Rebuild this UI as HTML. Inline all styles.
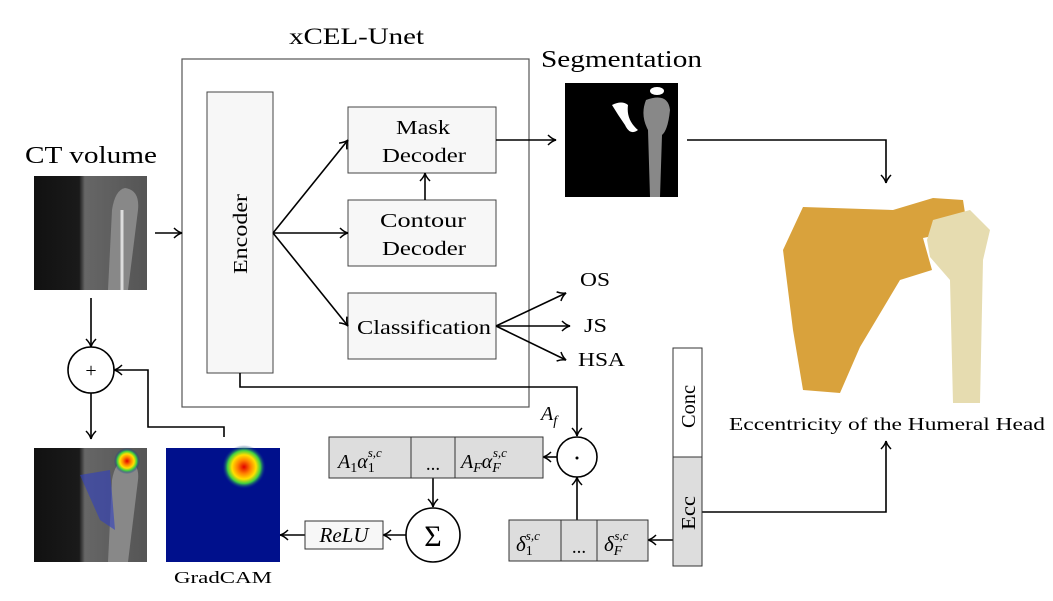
<!DOCTYPE html>
<html><head><meta charset="utf-8"><style>
html,body{margin:0;padding:0;background:#fff;}
svg{display:block;font-family:"Liberation Serif",serif;}
</style></head><body>
<svg width="1053" height="601" viewBox="0 0 1053 601" xmlns="http://www.w3.org/2000/svg">
<defs>
<marker id="a" markerWidth="10" markerHeight="12" refX="9" refY="6" orient="auto" markerUnits="userSpaceOnUse">
<path d="M1,1 Q5,5 9,6 Q5,7 1,11" fill="none" stroke="#000" stroke-width="1.5"/>
</marker>
<radialGradient id="hot" cx="0.5" cy="0.5" r="0.5">
<stop offset="0" stop-color="#e00000"/><stop offset="0.3" stop-color="#ff8000"/><stop offset="0.55" stop-color="#ffe000"/><stop offset="0.75" stop-color="#40d040"/><stop offset="1" stop-color="#0010a0" stop-opacity="0"/>
</radialGradient>
<linearGradient id="ct" x1="0" x2="1"><stop offset="0" stop-color="#111"/><stop offset="0.4" stop-color="#1a1a1a"/><stop offset="0.45" stop-color="#666"/><stop offset="1" stop-color="#555"/></linearGradient>
</defs>

<text x="289" y="44" font-size="23" textLength="135" lengthAdjust="spacingAndGlyphs">xCEL-Unet</text>
<rect x="182" y="59" width="347" height="348" fill="#fff" stroke="#555" stroke-width="1.2"/>
<rect x="207" y="92" width="66" height="281" fill="#f7f7f7" stroke="#444"/>
<text transform="translate(247,274) rotate(-90)" font-size="20" textLength="80" lengthAdjust="spacingAndGlyphs">Encoder</text>
<rect x="348" y="107" width="148" height="66" fill="#f7f7f7" stroke="#444"/>
<text x="396" y="134" font-size="20" textLength="54" lengthAdjust="spacingAndGlyphs">Mask</text>
<text x="382" y="162" font-size="20" textLength="84" lengthAdjust="spacingAndGlyphs">Decoder</text>
<rect x="348" y="200" width="148" height="66" fill="#f7f7f7" stroke="#444"/>
<text x="380" y="227" font-size="20" textLength="86" lengthAdjust="spacingAndGlyphs">Contour</text>
<text x="382" y="255" font-size="20" textLength="84" lengthAdjust="spacingAndGlyphs">Decoder</text>
<rect x="348" y="293" width="148" height="66" fill="#f7f7f7" stroke="#444"/>
<text x="357" y="334" font-size="20" textLength="134" lengthAdjust="spacingAndGlyphs">Classification</text>

<g stroke="#000" stroke-width="1.6" fill="none">
<line x1="273" y1="233" x2="348" y2="140" marker-end="url(#a)"/>
<line x1="273" y1="233" x2="348" y2="233" marker-end="url(#a)"/>
<line x1="273" y1="233" x2="348" y2="326" marker-end="url(#a)"/>
<line x1="425" y1="200" x2="425" y2="173" marker-end="url(#a)"/>
<line x1="496" y1="140" x2="556" y2="140" marker-end="url(#a)"/>
<line x1="496" y1="326" x2="566" y2="293" marker-end="url(#a)"/>
<line x1="496" y1="326" x2="570" y2="326" marker-end="url(#a)"/>
<line x1="496" y1="326" x2="566" y2="360" marker-end="url(#a)"/>
<line x1="155" y1="233" x2="182" y2="233" marker-end="url(#a)"/>
<polyline points="687,140 886,140 886,183" marker-end="url(#a)"/>
<polyline points="702,512 886,512 886,441" marker-end="url(#a)"/>
<polyline points="240,373 240,387 577,387 577,436" marker-end="url(#a)"/>
<line x1="91" y1="298" x2="91" y2="347" marker-end="url(#a)"/>
<line x1="91" y1="393" x2="91" y2="439" marker-end="url(#a)"/>
<polyline points="224,437 224,427 148,427 148,370 114,370" marker-end="url(#a)"/>
<line x1="557" y1="457" x2="543" y2="457" marker-end="url(#a)"/>
<line x1="577" y1="520" x2="577" y2="477" marker-end="url(#a)"/>
<line x1="433" y1="478" x2="433" y2="507" marker-end="url(#a)"/>
<line x1="406" y1="535" x2="383" y2="535" marker-end="url(#a)"/>
<line x1="305" y1="535" x2="280" y2="535" marker-end="url(#a)"/>
<line x1="673" y1="540" x2="648" y2="540" marker-end="url(#a)"/>
</g>

<text x="580" y="286" font-size="20" textLength="30" lengthAdjust="spacingAndGlyphs">OS</text>
<text x="584" y="332" font-size="20" textLength="23" lengthAdjust="spacingAndGlyphs">JS</text>
<text x="578" y="366" font-size="20" textLength="47" lengthAdjust="spacingAndGlyphs">HSA</text>

<text x="25" y="163" font-size="24" textLength="132" lengthAdjust="spacingAndGlyphs">CT volume</text>
<rect x="34" y="176" width="113" height="114" fill="url(#ct)"/>
<path d="M108,290 L112,210 Q115,190 125,188 Q140,190 138,210 L128,290Z" fill="#888"/>
<line x1="122" y1="210" x2="122" y2="290" stroke="#ddd" stroke-width="3"/>

<text x="541" y="67" font-size="24" textLength="161" lengthAdjust="spacingAndGlyphs">Segmentation</text>
<rect x="565" y="83" width="113" height="114" fill="#000"/>
<path d="M646,100 Q668,92 670,110 Q668,130 662,135 L660,197 L650,197 L648,130 Q640,115 646,100Z" fill="#888"/>
<path d="M612,105 Q622,100 628,105 Q626,120 638,130 Q630,136 625,125 Q618,115 612,105Z" fill="#fff"/>
<ellipse cx="657" cy="91" rx="7" ry="4" fill="#fff"/>

<circle cx="91" cy="370" r="23" fill="#fff" stroke="#000" stroke-width="1.6"/>
<text x="91" y="377" font-size="20" text-anchor="middle">+</text>

<rect x="34" y="448" width="113" height="114" fill="url(#ct)"/>
<path d="M108,562 L112,480 Q115,462 125,460 Q140,462 138,480 L128,562Z" fill="#888"/>
<path d="M80,475 L110,470 L115,530 L100,520Z" fill="#3040c0" opacity="0.6"/>
<circle cx="127" cy="461" r="13" fill="url(#hot)"/>
<rect x="166" y="448" width="114" height="114" fill="#00108c"/>
<circle cx="244" cy="467" r="22" fill="url(#hot)"/>
<text x="174" y="583" font-size="17" textLength="98" lengthAdjust="spacingAndGlyphs">GradCAM</text>

<rect x="329" y="437" width="214" height="41" fill="#ddd" stroke="#333"/>
<line x1="411" y1="437" x2="411" y2="478" stroke="#333"/>
<line x1="455" y1="437" x2="455" y2="478" stroke="#333"/>
<text x="338" y="468" font-size="20" font-style="italic">A<tspan font-size="14" dy="4" font-style="normal">1</tspan><tspan dy="-4">α</tspan><tspan font-size="14" dy="4" font-style="normal">1</tspan><tspan font-size="13" dx="-7" dy="-15">s,c</tspan></text>
<text x="433" y="470" font-size="19" text-anchor="middle">...</text>
<text x="461" y="468" font-size="20" font-style="italic">A<tspan font-size="14" dy="4">F</tspan><tspan dy="-4">α</tspan><tspan font-size="14" dy="4">F</tspan><tspan font-size="13" dx="-8" dy="-15">s,c</tspan></text>

<circle cx="577" cy="457" r="20" fill="#fff" stroke="#000" stroke-width="1.6"/>
<circle cx="577" cy="458" r="1.5" fill="#000"/>
<text x="541" y="420" font-size="20" font-style="italic">A<tspan font-size="14" dy="5">f</tspan></text>

<circle cx="433" cy="535" r="27" fill="#fff" stroke="#000" stroke-width="1.6"/>
<text x="433" y="546" font-size="30" text-anchor="middle">Σ</text>
<rect x="305" y="521" width="78" height="28" fill="#f7f7f7" stroke="#333"/>
<text x="344" y="542" font-size="21" font-style="italic" text-anchor="middle">ReLU</text>

<rect x="509" y="520" width="139" height="41" fill="#ddd" stroke="#333"/>
<line x1="561" y1="520" x2="561" y2="561" stroke="#333"/>
<line x1="597" y1="520" x2="597" y2="561" stroke="#333"/>
<text x="516" y="551" font-size="21" font-style="italic">δ<tspan font-size="14" dy="4" font-style="normal">1</tspan><tspan font-size="13" dx="-7" dy="-15">s,c</tspan></text>
<text x="579" y="553" font-size="19" text-anchor="middle">...</text>
<text x="604" y="551" font-size="21" font-style="italic">δ<tspan font-size="14" dy="4">F</tspan><tspan font-size="13" dx="-8" dy="-15">s,c</tspan></text>

<rect x="673" y="348" width="29" height="109" fill="#fff" stroke="#333"/>
<rect x="673" y="457" width="29" height="109" fill="#ddd" stroke="#333"/>
<text transform="translate(695,428) rotate(-90)" font-size="20" textLength="43" lengthAdjust="spacingAndGlyphs">Conc</text>
<text transform="translate(695,530) rotate(-90)" font-size="20" textLength="34" lengthAdjust="spacingAndGlyphs">Ecc</text>

<path d="M803,207 L893,210 L933,198 L963,200 L965,213 L947,233 L923,238 L932,270 L900,280 L860,347 L840,393 L803,390 L793,330 L783,250Z" fill="#d9a23c"/>
<path d="M927,240 L933,220 L970,210 L990,230 L983,260 L980,403 L953,403 L950,280 L930,257Z" fill="#e6dcb0"/>
<text x="729" y="430" font-size="18" textLength="316" lengthAdjust="spacingAndGlyphs">Eccentricity of the Humeral Head</text>
</svg>
</body></html>
